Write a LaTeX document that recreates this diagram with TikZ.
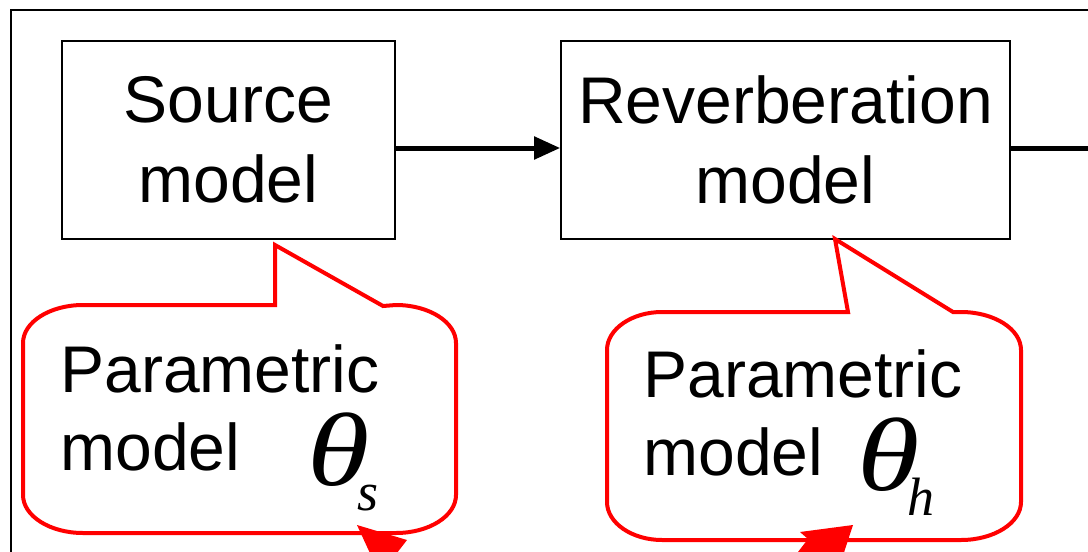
\documentclass[tikz,border=0pt]{standalone}
\usepackage{fontspec}
\setmainfont{Liberation Sans}
\newfontfamily\greekfont{Liberation Serif}
\newfontfamily\widegreek[FakeStretch=1.22]{Liberation Serif}
\usetikzlibrary{arrows.meta}

% parameter symbol: wide italic theta with a lowered italic index
\newcommand{\paramsym}[1]{\makebox[25pt][l]{\widegreek\itshape\fontsize{52}{52}\selectfont θ}%
  \raisebox{-12.5pt}{\greekfont\itshape\fontsize{27}{27}\selectfont #1}}

\begin{document}
\begin{tikzpicture}[x=0.5pt, y=-0.5pt,
  frame/.style={draw=black, line width=1pt},
  block/.style={draw=black, line width=0.8pt, minimum height=99pt,
    inner sep=0pt, align=center, font=\fontsize{33}{40}\selectfont},
  flow/.style={line width=2.5pt, -{Triangle[length=13pt, width=11pt]}},
  bar/.style={line width=2.5pt},
  callout/.style={draw=red, line width=2pt, line join=miter},
  ptext/.style={inner sep=0pt, anchor=base west, font=\fontsize{33}{40}\selectfont},
  sym/.style={inner sep=0pt, anchor=base west}]

\useasboundingbox (0,0) rectangle (1088,552);
\clip (0,0) rectangle (1088,552);

% outer frame (continues past the page edge)
\draw[frame] (10.5,9.5) rectangle (1200,700);

% processing blocks
\node[block, minimum width=166.5pt] (src) at (228.5,140) {Source\\model};
\node[block, minimum width=224.5pt] (rev) at (785.5,140) {Reverberation\\model};
\coordinate (out) at (1100,148);

\draw[flow] ([yshift=-4pt]src.east) -- ([yshift=-4pt]rev.west);
\draw[bar] ([yshift=-4pt]rev.east) -- (out);

% speech-bubble callouts
\draw[callout] (275,305) -- (275,245) -- (383,306) -- (396,305)
  .. controls (429,305) and (456,322) .. (456,343)
  -- (456,495) .. controls (456,516) and (429,533) .. (396,533)
  -- (83,533) .. controls (50,533) and (23,516) .. (23,495)
  -- (23,343) .. controls (23,322) and (50,305) .. (83,305)
  -- cycle;

\draw[callout] (848,312) -- (835,239) -- (953,312) -- (961,312)
  .. controls (994,312) and (1021,329) .. (1021,350)
  -- (1021,502) .. controls (1021,523) and (994,540) .. (961,540)
  -- (662,540) .. controls (632,540) and (607,523) .. (607,502)
  -- (607,350) .. controls (607,329) and (632,312) .. (662,312)
  -- cycle;

% arrowheads leaving the callouts
\fill[red] (357,525) -- (407,540) -- (380,575) -- cycle;
\fill[red] (800,532) -- (853,525) -- (835,580) -- (798,552) -- (808,539) -- cycle;

% callout texts
\node[ptext] (c1a) at (60,392) {Parametric};
\node[ptext] (c1b) at (60,470) {model};
\node[sym] (t1) at (307,485) {\paramsym{s}};

\node[ptext] (c2a) at (643,397) {Parametric};
\node[ptext] (c2b) at (643,475) {model};
\node[sym] (t2) at (857,490) {\paramsym{h}};
\end{tikzpicture}
\end{document}
